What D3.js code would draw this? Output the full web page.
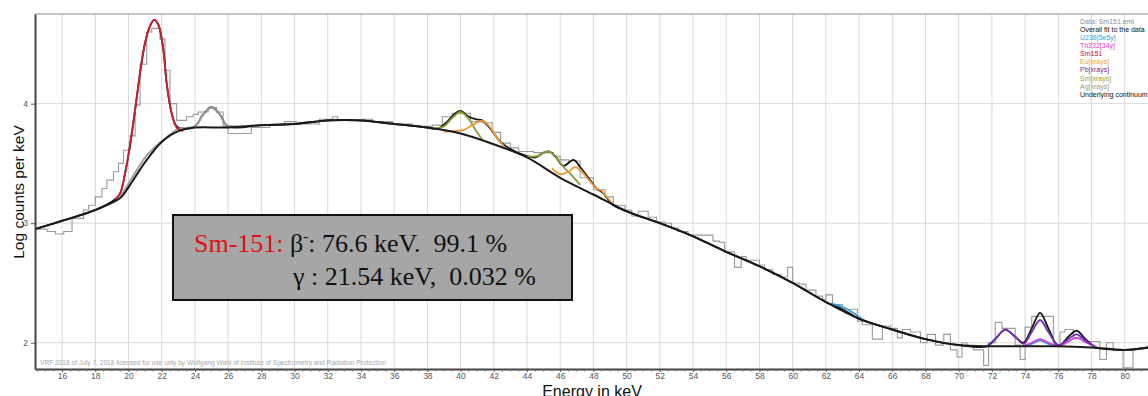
<!DOCTYPE html>
<html>
<head>
<meta charset="utf-8">
<script src="https://cdn.jsdelivr.net/npm/d3@7"></script>
<style>
  body { margin: 0; background: #fff; }
  svg { display: block; font-family: Arial, "Liberation Sans", sans-serif; }
</style>
</head>
<body>
<svg id="chart" width="1148" height="396"></svg>
<script>
// measured spectrum (step histogram): energy where each step starts, log counts per keV
const histE = [14.37, 15.1, 15.6, 16.1, 16.6, 17.3, 17.6, 18.0, 18.4, 18.7, 19.1, 19.4, 19.7, 20.1, 20.4, 20.7, 21.1, 21.4, 21.9, 22.2,
  22.5, 22.9, 23.5, 23.9, 24.2, 24.8, 25.3, 25.7, 26.0, 27.4, 28.5, 29.4, 30.1, 31.5, 32.3, 32.6, 34.1, 34.7, 35.9, 37.1,
  38.3, 38.9, 39.5, 40.6, 41.3, 41.9, 42.4, 43.0, 43.5, 44.4, 45.6, 46.0, 46.5, 47.2, 48.0, 48.7, 49.2, 49.9, 50.3, 50.7,
  51.3, 51.8, 52.3, 52.7, 53.1, 53.7, 54.4, 55.2, 55.6, 55.9, 56.5, 56.9, 57.2, 58.0, 58.3, 58.8, 59.3, 59.7, 60.0, 60.4,
  60.8, 61.4, 61.8, 62.0, 62.4, 63.0, 63.9, 64.2, 64.8, 65.4, 65.9, 66.3, 66.6, 67.1, 67.7, 68.1, 68.6, 69.1, 69.5, 69.9,
  70.2, 70.5, 70.9, 71.5, 71.8, 72.2, 72.6, 73.4, 73.7, 74.0, 74.4, 75.0, 75.7, 76.1, 76.4, 76.9, 77.5, 78.5, 78.9, 79.3,
  79.9, 80.5, 80.7, 81.4];
const histV = [2.95, 2.93, 2.91, 2.93, 3.04, 3.11, 3.15, 3.22, 3.29, 3.36, 3.43, 3.50, 3.61, 3.73, 3.99, 4.33, 4.60, 4.63, 4.54, 4.28,
  4.00, 3.86, 3.89, 3.91, 3.93, 3.97, 3.93, 3.81, 3.75, 3.80, 3.82, 3.85, 3.83, 3.87, 3.89, 3.86, 3.87, 3.85, 3.83, 3.81,
  3.82, 3.89, 3.92, 3.85, 3.84, 3.76, 3.67, 3.63, 3.60, 3.59, 3.56, 3.53, 3.52, 3.38, 3.28, 3.22, 3.15, 3.11, 3.06, 3.10,
  3.05, 3.01, 3.00, 2.96, 2.93, 2.90, 2.90, 2.85, 2.84, 2.76, 2.63, 2.72, 2.69, 2.65, 2.61, 2.57, 2.55, 2.63, 2.50, 2.49,
  2.44, 2.39, 2.36, 2.40, 2.32, 2.28, 2.18, 2.15, 2.03, 2.14, 2.12, 2.04, 2.11, 2.09, 2.00, 2.07, 1.98, 2.07, 1.94, 1.88,
  2.00, 1.97, 1.94, 1.81, 2.00, 2.17, 2.12, 1.98, 1.86, 2.13, 2.22, 2.22, 1.98, 2.09, 2.11, 2.04, 2.01, 1.86, 2.00, 1.94,
  1.79, 1.94, 1.95, 1.95];

// underlying continuum
const contE = [14.37, 16, 18, 19.5, 20, 21, 22, 23, 24, 26, 28, 30, 32, 34, 36, 38, 40, 42, 44, 46,
  48, 50, 52, 54, 56, 58, 60, 62, 64, 66, 68, 70, 72, 74, 76, 78, 80, 81.4];
const contV = [2.95, 3.02, 3.11, 3.21, 3.30, 3.51, 3.68, 3.77, 3.80, 3.80, 3.82, 3.83, 3.86, 3.86, 3.83, 3.80, 3.75, 3.66, 3.55, 3.38,
  3.24, 3.10, 3.00, 2.89, 2.76, 2.64, 2.50, 2.34, 2.20, 2.11, 2.03, 1.98, 1.97, 1.97, 1.97, 1.96, 1.94, 1.96];

// overall fit
const fitE = [14.37, 16, 18, 19.2, 19.5, 19.8, 20.1, 20.4, 20.7, 21.0, 21.3, 21.55, 21.8, 22.1, 22.3, 22.6, 22.9, 23.3, 24, 24.5,
  25, 25.5, 25.9, 26.5, 28, 30, 32, 34, 36, 38, 38.6, 39.2, 39.6, 40.0, 40.5, 40.9, 41.3, 41.8, 42.4, 43,
  44, 44.5, 45.0, 45.3, 45.7, 46.2, 46.8, 47.2, 47.8, 48.2, 48.6, 49.2, 50, 52, 54, 56, 58, 60, 62, 63,
  64, 66, 68, 70, 71.7, 72.2, 72.8, 73.4, 73.9, 74.4, 74.9, 75.4, 76.0, 76.6, 77.1, 77.7, 78.3, 80, 81.4];
const fitV = [2.95, 3.02, 3.11, 3.20, 3.25, 3.42, 3.66, 3.95, 4.26, 4.51, 4.65, 4.70, 4.66, 4.45, 4.17, 3.92, 3.81, 3.79, 3.81, 3.91,
  3.97, 3.91, 3.82, 3.80, 3.82, 3.83, 3.86, 3.86, 3.83, 3.80, 3.79, 3.85, 3.91, 3.94, 3.89, 3.87, 3.86, 3.79, 3.68, 3.62,
  3.56, 3.55, 3.59, 3.60, 3.56, 3.48, 3.53, 3.47, 3.36, 3.29, 3.25, 3.15, 3.10, 3.00, 2.89, 2.76, 2.64, 2.50, 2.34, 2.28,
  2.20, 2.11, 2.03, 1.98, 1.97, 2.03, 2.11, 2.05, 2.00, 2.12, 2.25, 2.12, 1.97, 2.05, 2.10, 2.02, 1.96, 1.94, 1.96];

// components (drawn on top of continuum)
const smE = [19.2, 19.5, 19.8, 20.1, 20.4, 20.7, 21.0, 21.3, 21.55, 21.8, 22.1, 22.3, 22.6, 22.9, 23.3];
const smV = [3.20, 3.25, 3.42, 3.66, 3.95, 4.26, 4.51, 4.65, 4.70, 4.66, 4.45, 4.17, 3.92, 3.80, 3.77];

const agE = [19.5, 20, 21, 21.7, 22.3, 23, 24, 24.5, 25.0, 25.5, 25.9, 26.3, 27];
const agV = [3.22, 3.33, 3.55, 3.65, 3.72, 3.79, 3.81, 3.91, 3.97, 3.91, 3.82, 3.81, 3.81];

const euE1 = [39.0, 39.6, 40.2, 40.7, 41.3, 41.8, 42.2, 42.6];
const euV1 = [3.765, 3.77, 3.78, 3.82, 3.855, 3.80, 3.71, 3.645];
const euE2 = [45.5, 46.0, 46.5, 46.9, 47.3, 47.8, 48.2, 48.5, 48.8, 49.2];
const euV2 = [3.46, 3.41, 3.43, 3.47, 3.43, 3.35, 3.29, 3.27, 3.22, 3.16];

const smxE1 = [38.4, 39.0, 39.5, 40.0, 40.5, 40.9, 41.3];
const smxV1 = [3.79, 3.81, 3.88, 3.93, 3.87, 3.78, 3.70];
const smxE2 = [44.0, 44.6, 45.0, 45.3, 45.7, 46.2, 46.7, 47.2];
const smxV2 = [3.56, 3.56, 3.59, 3.60, 3.56, 3.47, 3.40, 3.32];

const uE1 = [62.3, 62.8, 63.3, 63.8, 64.2];
const uV1 = [2.33, 2.31, 2.28, 2.235, 2.195];
const uE2 = [73.9, 74.4, 74.9, 75.4, 76.0];
const uV2 = [1.97, 1.99, 2.02, 1.99, 1.97];

const thE = [73.9, 74.4, 74.9, 75.4, 76.0, 76.6, 77.1, 77.7, 78.3];
const thV = [1.97, 2.00, 2.03, 2.00, 1.97, 2.01, 2.04, 2.00, 1.96];

const pbE = [71.7, 72.2, 72.8, 73.4, 73.9, 74.4, 74.9, 75.4, 76.0, 76.6, 77.1, 77.7, 78.3];
const pbV = [1.97, 2.03, 2.11, 2.05, 1.99, 2.09, 2.19, 2.09, 1.98, 2.03, 2.07, 2.01, 1.96];

const xTicks = [16, 18, 20, 22, 24, 26, 28, 30, 32, 34, 36, 38, 40, 42, 44, 46, 48, 50, 52, 54, 56, 58, 60, 62, 64, 66, 68, 70, 72, 74, 76, 78, 80];
const yTicks = [2, 3, 4];

const legendLabels = ["Data: Sm151.eml", "Overall fit to the data", "U238[5e5y]", "Th232[34y]", "Sm151",
  "Eu[xrays]", "Pb[xrays]", "Sm[xrays]", "Ag[xrays]", "Underlying continuum"];
const legendColors = ["#8c8c8c", "#111", "#3fa0dc", "#d040c8", "#c8102e", "#eb9a3a", "#7030a0", "#98a03a", "#9a9a9a", "#111"];

const pLeft = 35, pRight = 1148, pTop = 14, pBottom = 369;

const svg = d3.select("#chart");

const x = d3.scaleLinear().domain([14.37, 81.4]).range([pLeft, pRight]);
const y = d3.scaleLinear().domain([1.78, 4.75]).range([pBottom, pTop]);

svg.append("defs").append("clipPath").attr("id", "plot")
  .append("rect").attr("x", pLeft).attr("y", pTop).attr("width", pRight - pLeft).attr("height", pBottom - pTop);

// grid
const grid = svg.append("g");
grid.selectAll("line.v").data(xTicks).join("line").attr("class", "v")
  .attr("x1", d => x(d)).attr("x2", d => x(d))
  .attr("y1", pTop).attr("y2", pBottom)
  .attr("stroke", "#d9d9d9").attr("stroke-width", 1);
grid.selectAll("line.h").data(yTicks).join("line").attr("class", "h")
  .attr("x1", pLeft).attr("x2", pRight)
  .attr("y1", d => y(d)).attr("y2", d => y(d))
  .attr("stroke", "#d9d9d9").attr("stroke-width", 1);

// top frame
svg.append("line").attr("x1", pLeft).attr("x2", pRight).attr("y1", pTop).attr("y2", pTop)
  .attr("stroke", "#8a8a8a").attr("stroke-width", 1);

const plot = svg.append("g").attr("clip-path", "url(#plot)");

const zip = (E, V) => E.map((e, i) => [e, V[i]]);

const smooth = d3.line().x(d => x(d[0])).y(d => y(d[1])).curve(d3.curveCatmullRom.alpha(0.5));
const steps = d3.line().x(d => x(d[0])).y(d => y(d[1])).curve(d3.curveStepAfter);

// data histogram
plot.append("path").datum(zip(histE, histV))
  .attr("d", steps).attr("fill", "none").attr("stroke", "#9a9a9a").attr("stroke-width", 1.1);

// overall fit
plot.append("path").datum(zip(fitE, fitV))
  .attr("d", smooth).attr("fill", "none").attr("stroke", "#151515").attr("stroke-width", 1.8);

const comps = [
  [agE, agV, "#9a9a9a"],
  [smE, smV, "#d0202e"],
  [smxE1, smxV1, "#8c9a32"],
  [smxE2, smxV2, "#8c9a32"],
  [euE1, euV1, "#eb9a3a"],
  [euE2, euV2, "#eb9a3a"],
  [uE1, uV1, "#3fa0dc"],
  [uE2, uV2, "#3f8fe0"],
  [thE, thV, "#c84ad8"],
  [pbE, pbV, "#7a2fb0"]
];
comps.forEach(c => {
  plot.append("path").datum(zip(c[0], c[1]))
    .attr("d", smooth).attr("fill", "none").attr("stroke", c[2]).attr("stroke-width", 1.8);
});

// continuum
plot.append("path").datum(zip(contE, contV))
  .attr("d", smooth).attr("fill", "none").attr("stroke", "#1a1a1a").attr("stroke-width", 2);

// axes
const xAxis = svg.append("g").attr("transform", `translate(0,${pBottom})`)
  .call(d3.axisBottom(x).tickValues(xTicks).tickFormat(d3.format("d")).tickSize(3).tickPadding(2).tickSizeOuter(0));
xAxis.select(".domain").attr("stroke", "#444").attr("stroke-width", 2);
xAxis.selectAll(".tick line").attr("stroke", "#555");
xAxis.selectAll(".tick text").attr("fill", "#555").attr("font-size", 8.5).attr("dy", "0.6em");

svg.append("g").attr("transform", `translate(0,${pBottom})`)
  .selectAll("line").data(d3.range(14.5, 81.4, 0.5).filter(v => v % 2 !== 0)).join("line")
  .attr("x1", d => x(d)).attr("x2", d => x(d)).attr("y1", 0).attr("y2", 2.5)
  .attr("stroke", "#666");

const yAxis = svg.append("g").attr("transform", `translate(${pLeft},0)`)
  .call(d3.axisLeft(y).tickValues(yTicks).tickFormat(d3.format("d")).tickSize(4).tickSizeOuter(0));
yAxis.select(".domain").attr("stroke", "#444").attr("stroke-width", 2);
yAxis.selectAll(".tick line").attr("stroke", "#555");
yAxis.selectAll(".tick text").attr("fill", "#555").attr("font-size", 8.5);

// axis titles
svg.append("text").attr("x", 592).attr("y", 397).attr("text-anchor", "middle")
  .attr("font-size", 16).attr("fill", "#111").text("Energy in keV");
svg.append("text").attr("transform", "translate(24,192) rotate(-90)").attr("text-anchor", "middle")
  .attr("font-size", 15.5).attr("fill", "#111").text("Log counts per keV");

// watermark
svg.append("text").attr("x", 40).attr("y", 365).attr("font-size", 6.6).attr("fill", "#a8a8a8")
  .text("VRF 2018 of July 7, 2018 licensed for use only by Wolfgang Wahl of Institute of Spectrometry and Radiation Protection");

// legend
svg.append("g").selectAll("text").data(legendLabels).join("text")
  .attr("x", 1080).attr("y", (d, i) => 23.5 + i * 8.15)
  .attr("font-size", 7).attr("fill", (d, i) => legendColors[i])
  .text(d => d);

// info box
svg.append("rect").attr("x", 173).attr("y", 215).attr("width", 399).attr("height", 85)
  .attr("fill", "#a6a6a6").attr("stroke", "#111").attr("stroke-width", 2);

const t1 = svg.append("text").attr("x", 194).attr("y", 252)
  .attr("font-family", "'Liberation Serif', 'Times New Roman', serif").attr("font-size", 26)
  .style("white-space", "pre").attr("fill", "#111");
t1.append("tspan").attr("fill", "#e01010").text("Sm-151: ");
t1.append("tspan").text("β");
t1.append("tspan").attr("font-size", 15).attr("dy", -11).text("-");
t1.append("tspan").attr("dy", 11).text(": 76.6 keV.  99.1 %");

svg.append("text").attr("x", 293).attr("y", 285)
  .attr("font-family", "'Liberation Serif', 'Times New Roman', serif").attr("font-size", 26)
  .style("white-space", "pre").attr("fill", "#111")
  .text("γ : 21.54 keV,  0.032 %");
</script>
</body>
</html>
